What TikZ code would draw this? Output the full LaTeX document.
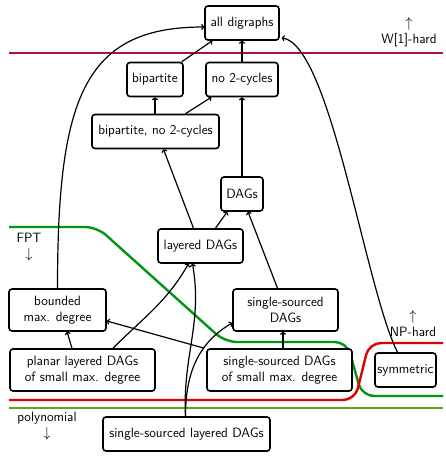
\documentclass[tikz,border=0pt]{standalone}
\usetikzlibrary{arrows.meta}
\definecolor{wred}{RGB}{176,16,60}
\definecolor{npred}{RGB}{224,0,0}
\definecolor{fptgreen}{RGB}{0,150,20}
\definecolor{polygreen}{RGB}{100,160,30}
\begin{document}
\begin{tikzpicture}[x=1pt,y=-1pt,
  box/.style={draw, line width=1.6pt, rounded corners=3pt, align=center,
    font=\sffamily\fontsize{13.5}{16}\selectfont, inner sep=0pt, minimum height=34pt},
  box2/.style={box, minimum height=42pt},
  arr/.style={-{To[length=3pt,width=6pt]}, line width=1.2pt},
  lbl/.style={font=\sffamily\fontsize{13.5}{16}\selectfont, align=center, inner sep=0pt},
  sep/.style={line width=2.4pt, rounded corners=12pt}]
\useasboundingbox (0,0) rectangle (446,458);

% separator lines
\draw[sep, wred] (9,53) -- (443,53);
\draw[sep, fptgreen] (9,227) -- (97,227) -- (225,342) -- (347,342) -- (362,396) -- (443,396);
\draw[sep, npred] (9,400) -- (355,400) -- (369,343) -- (443,343);
\draw[sep, polygreen] (9,408) -- (443,408);

% labels
\node[lbl] (lw) at (409,32) {$\uparrow$\\W[1]-hard};
\node[lbl] (lf) at (29,247) {FPT\\$\downarrow$};
\node[lbl] (ln) at (413,324) {$\uparrow$\\NP-hard};
\node[lbl] (lp) at (47,426) {polynomial\\$\downarrow$};

% nodes
\node[box, minimum width=74pt, fill=white] (alldi) at (242,23) {all digraphs};
\node[box, minimum width=56pt] (bip) at (155,79.5) {bipartite};
\node[box, minimum width=72pt] (no2) at (242,79.5) {no 2-cycles};
\node[box, minimum width=127pt] (bno) at (155.5,131.5) {bipartite, no 2-cycles};
\node[box, minimum width=42pt] (dags) at (242,194) {DAGs};
\node[box, minimum width=85pt, fill=white] (lay) at (200.5,246) {layered DAGs};
\node[box2, minimum width=97pt, fill=white] (bmd) at (57.5,310) {bounded\\max. degree};
\node[box2, minimum width=105pt, fill=white] (ssd) at (285.5,310) {single-sourced\\DAGs};
\node[box2, minimum width=145pt, fill=white] (pl) at (82.5,370) {planar layered DAGs\\of small max. degree};
\node[box2, minimum width=145pt, fill=white] (ssm) at (279.5,370) {single-sourced DAGs\\of small max. degree};
\node[box, minimum width=61pt, fill=white] (sym) at (405.5,370) {symmetric};
\node[box, minimum width=167pt, fill=white] (ssl) at (186.5,434) {single-sourced layered DAGs};

% arrows
\draw[arr] ([xshift=-2pt]bip.north east) -- ([xshift=8pt]alldi.south west);
\draw[arr] (no2.north) -- (alldi.south);
\draw[arr] (bip.south |- bno.north) -- (bip.south);
\draw[arr] ([xshift=30pt]bno.north) -- ([xshift=6pt]no2.south west);
\draw[arr] (dags.north) -- (no2.south);
\draw[arr] ([xshift=-7pt]lay.north) -- ([xshift=8pt]bno.south);
\draw[arr] ([xshift=15pt]lay.north) -- ([xshift=7pt]dags.south west);
\draw[arr] ([xshift=-8pt]ssd.north) -- ([xshift=6pt]dags.south);
\draw[arr] (bmd.north) .. controls +(0,-189) and +(-121,0) .. ([yshift=-4pt]alldi.west);
\draw[arr] ([xshift=-8pt]sym.north) .. controls +(-32,-63) and +(49,8) .. ([shift={(2pt,3pt)}]alldi.south east);
\draw[arr] ([xshift=-10.5pt]pl.north) -- ([xshift=9.5pt]bmd.south);
\draw[arr] ([xshift=30.5pt]pl.north) to[out=45,in=-120] ([xshift=-12pt]lay.south);
\draw[arr] ([xshift=-2pt]ssm.north west) -- ([yshift=-11pt]bmd.east);
\draw[arr] ([xshift=-2.5pt]ssd.south |- ssm.north) -- ([xshift=-2.5pt]ssd.south);
\draw[arr] ([xshift=-1pt]ssl.north) to[out=93,in=-80] ([xshift=-8pt]lay.south);
\draw[arr] ([xshift=-1pt]ssl.north) to[out=90,in=210] ([yshift=-13pt]ssd.west);
\end{tikzpicture}
\end{document}
